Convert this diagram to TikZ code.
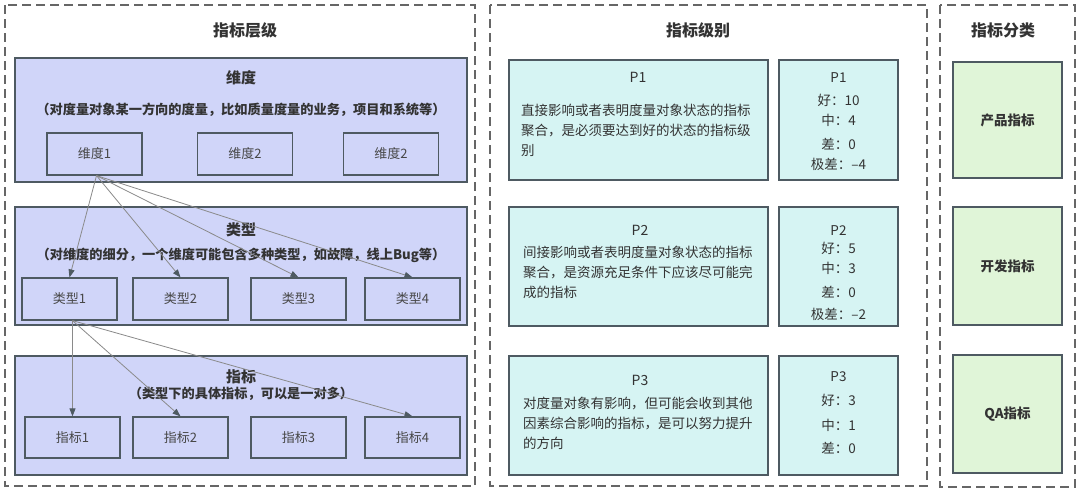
\documentclass[tikz,border=0pt]{standalone}
\usepackage{fontspec}
\setmainfont{Noto Sans CJK SC}
\usepackage{xcolor}
\usetikzlibrary{positioning, arrows.meta}

\definecolor{lineGray}{HTML}{4E5A62}
\definecolor{dashGray}{HTML}{666666}
\definecolor{tierBlue}{HTML}{D0D5F9}
\definecolor{levelCyan}{HTML}{D6F4F3}
\definecolor{sortGreen}{HTML}{E0F5D8}
\definecolor{inkGray}{HTML}{333333}
\definecolor{arrowGray}{HTML}{8A8A8A}

\tikzset{
  panel/.style={draw=dashGray, dash pattern=on 9pt off 5pt, line width=1.3pt},
  head/.style={font=\fontsize{16}{18}\selectfont\bfseries, text=inkGray},
  block/.style={draw=lineGray, fill=tierBlue, line width=1.2pt, inner sep=0pt,
    minimum width=452pt},
  blockhead/.style={font=\fontsize{15}{18}\selectfont\bfseries, text=inkGray},
  blocksub/.style={font=\fontsize{13.2}{18}\selectfont\bfseries, text=inkGray},
  item/.style={draw=lineGray, line width=1.2pt, inner sep=0pt, minimum width=95pt,
    minimum height=42pt, font=\fontsize{13}{16}\selectfont, text=inkGray!90},
  lvlbox/.style={draw=lineGray, fill=levelCyan, line width=1.2pt, inner sep=0pt},
  lvlname/.style={font=\fontsize{14}{16}\selectfont, text=inkGray},
  lvltext/.style={font=\fontsize{13.5}{20}\selectfont, text=inkGray, align=left,
    inner sep=0pt, anchor=north west},
  lvlstat/.style={font=\fontsize{13.5}{20}\selectfont, text=inkGray, align=center,
    inner sep=0pt, anchor=north},
  sortbox/.style={draw=lineGray, fill=sortGreen, line width=1.2pt, inner sep=0pt,
    minimum width=109pt, font=\fontsize{13.5}{16}\selectfont\bfseries, text=inkGray},
  link/.style={color=arrowGray, line width=0.8pt,
    -{Triangle[length=8pt, width=6pt, color=lineGray]}}
}

\begin{document}
\begin{tikzpicture}[x=1pt, y=-1pt]
  \useasboundingbox (0,0) rectangle (1080,493);

  % three dashed panels
  \draw[panel] (5,5) rectangle (475,486);
  \draw[panel] (490,5) rectangle (927,486);
  \draw[panel] (940,5) rectangle (1075,487);

  % left panel: hierarchy
  \node[head] (hierTitle) at (245,30) {指标层级};

  \node[block, minimum height=124pt] (dimBlock) at (241,120) {};
  \node[blockhead] (dimHead) at (241,78) {维度};
  \node[blocksub] (dimSub) at (241,110) {（对度量对象某一方向的度量，比如质量度量的业务，项目和系统等）};
  \node[item] (dim1) at (94.5,154) {维度1};
  \node[item] (dim2) at (245,154) {维度2};
  \node[item] (dim3) at (391,154) {维度2};

  \node[block, minimum height=118pt] (typeBlock) at (241,266) {};
  \node[blockhead] (typeHead) at (241,230) {类型};
  \node[blocksub] (typeSub) at (241,255) {（对维度的细分，一个维度可能包含多种类型，如故障，线上Bug等）};
  \node[item] (type1) at (69.5,299) {类型1};
  \node[item] (type2) at (180.5,299) {类型2};
  \node[item] (type3) at (298.5,299) {类型3};
  \node[item] (type4) at (412.5,299) {类型4};

  \node[block, minimum height=119pt] (indBlock) at (241,415.5) {};
  \node[blockhead] (indHead) at (241,377) {指标};
  \node[blocksub] (indSub) at (241,394) {（类型下的具体指标，可以是一对多）};
  \node[item, minimum height=41pt] (ind1) at (72.5,437.5) {指标1};
  \node[item, minimum height=41pt] (ind2) at (180.5,437.5) {指标2};
  \node[item, minimum height=41pt] (ind3) at (298.5,437.5) {指标3};
  \node[item, minimum height=41pt] (ind4) at (412.5,437.5) {指标4};

  \path[link]
  ([xshift=2pt]dim1.south) edge (type1.north)
                           edge (type2.north)
                           edge (type3.north)
                           edge (type4.north)
  ([xshift=3pt]type1.south) edge (ind1.north)
                            edge (ind2.north)
                            edge (ind4.north);

  % middle panel: levels
  \node[head] (levelTitle) at (698,30) {指标级别};

  \node[lvlbox, minimum width=259pt, minimum height=120pt] (p1Box) at (638.5,120) {};
  \node[lvlbox, minimum width=119pt, minimum height=120pt] (p1Stat) at (838.5,120) {};
  \node[lvlname] (p1Name) at (638,77) {P1};
  \node[lvltext] (p1Text) at (521,104) {直接影响或者表明度量对象状态的指标\\聚合，是必须要达到好的状态的指标级\\别};
  \node[lvlstat] (p1Vals) at (838.5,72) {P1\\[3pt]好：10\\中：4\\[4pt]差：0\\极差：–4};

  \node[lvlbox, minimum width=259pt, minimum height=119pt] (p2Box) at (638.5,266.5) {};
  \node[lvlbox, minimum width=119pt, minimum height=119pt] (p2Stat) at (838.5,266.5) {};
  \node[lvlname] (p2Name) at (640,230) {P2};
  \node[lvltext] (p2Text) at (523,246) {间接影响或者表明度量对象状态的指标\\聚合，是资源充足条件下应该尽可能完\\成的指标};
  \node[lvlstat] (p2Vals) at (838.5,225) {P2\\[-2pt]好：5\\中：3\\[4pt]差：0\\[2pt]极差：–2};

  \node[lvlbox, minimum width=259pt, minimum height=119pt] (p3Box) at (638.5,415.5) {};
  \node[lvlbox, minimum width=119pt, minimum height=119pt] (p3Stat) at (838.5,415.5) {};
  \node[lvlname] (p3Name) at (640,380) {P3};
  \node[lvltext] (p3Text) at (523,397) {对度量对象有影响，但可能会收到其他\\因素综合影响的指标，是可以努力提升\\的方向};
  \node[lvlstat] (p3Vals) at (838.5,371) {P3\\[4pt]好：3\\[5pt]中：1\\[3pt]差：0};

  % right panel: categories
  \node[head] (sortTitle) at (1003,30) {指标分类};
  \node[sortbox, minimum height=116pt] (prodSort) at (1007.5,120) {产品指标};
  \node[sortbox, minimum height=118pt] (devSort) at (1007.5,266) {开发指标};
  \node[sortbox, minimum height=118pt] (qaSort) at (1007.5,414) {QA指标};
\end{tikzpicture}
\end{document}
